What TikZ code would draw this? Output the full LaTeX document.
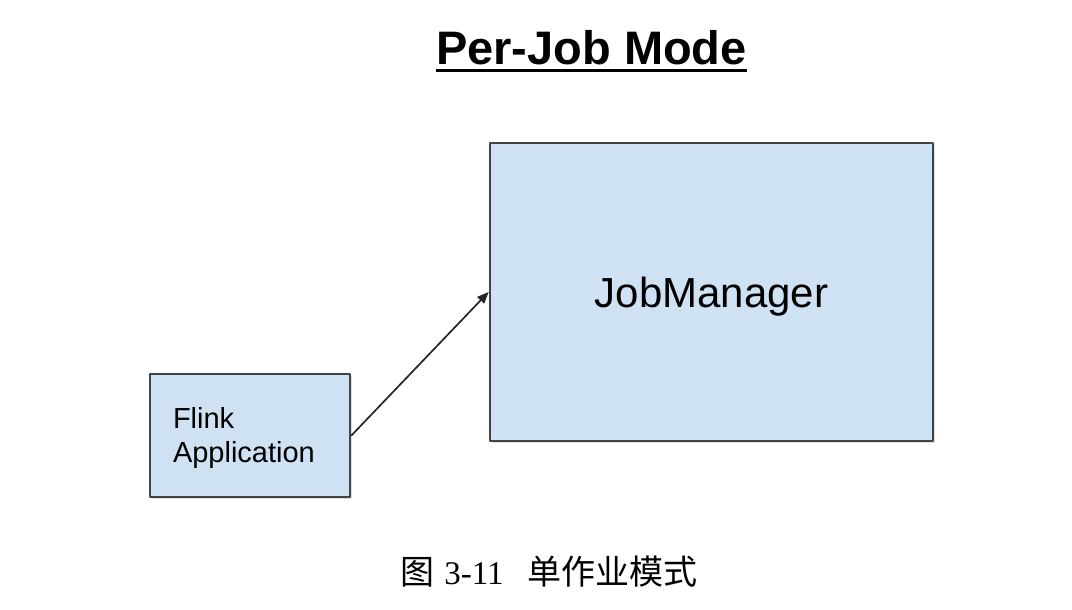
\documentclass[tikz,border=0pt]{standalone}
\usepackage{fontspec}
\setmainfont{Liberation Sans}
\newfontfamily\cjkfont{Noto Sans CJK SC}
\newfontfamily\capfont{Liberation Serif}
\usetikzlibrary{arrows,shadows}
\definecolor{boxfill}{HTML}{CFE2F3}
\definecolor{boxline}{HTML}{3F4449}

\begin{document}
\begin{tikzpicture}[line cap=round,line join=round,>=triangle 45,x=1.0pt,y=-1.0pt,
  modebox/.style={draw=boxline,line width=2.8pt,fill=boxfill,
    drop shadow={shadow xshift=2pt,shadow yshift=-2pt,opacity=0.25}}]
\useasboundingbox[fill=white] (0,0) rectangle (1072,610);
\node[anchor=base,inner sep=0pt,font=\bfseries\fontsize{47}{56}\selectfont] (title) at (591.5,65) {Per-Job Mode};
\draw[line width=3pt,line cap=butt] ([yshift=-5pt]title.south west) -- ([yshift=-5pt]title.south east);
\node[modebox,minimum width=443pt,minimum height=298pt,text height=30pt,text depth=0pt,
  font=\fontsize{42}{50}\selectfont] (jm) at (711.5,292) {JobManager};
\node[modebox,minimum width=200pt,minimum height=123pt,inner xsep=23pt,text width=154pt,align=left,
  font=\fontsize{29}{34}\selectfont] (app) at (250,435.5) {\rule{0pt}{27pt}Flink\\Application};
\draw[->,line width=1.7pt,color=black!85] (app.east) -- (jm.west);
\node[anchor=base,inner sep=0pt] (caption) at (549,584) {{\cjkfont\fontsize{34}{40}\selectfont 图}\hspace{10pt}{\capfont\fontsize{33}{38}\selectfont 3-11}\hspace{24pt}{\cjkfont\fontsize{34}{40}\selectfont 单作业模式}};
\end{tikzpicture}
\end{document}
